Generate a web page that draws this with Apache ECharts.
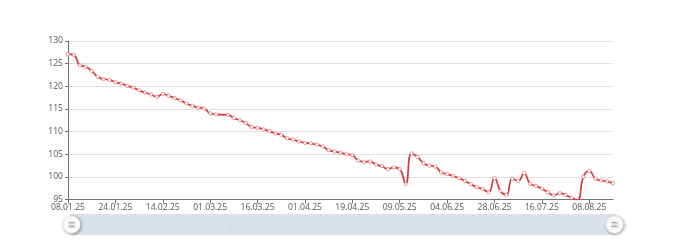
<!DOCTYPE html>
<html>
<head>
<meta charset="utf-8">
<script src="https://cdn.jsdelivr.net/npm/echarts@6/dist/echarts.min.js"></script>
<style>
html,body{margin:0;padding:0;background:#fff;}
#chart{width:680px;height:240px;}
</style>
</head>
<body>
<div id="chart"></div>
<script>
const dates = [
  '08.01.25','10.01.25','12.01.25','14.01.25','16.01.25','18.01.25','20.01.25','22.01.25',
  '24.01.25','27.01.25','29.01.25','31.01.25','03.02.25','05.02.25','07.02.25','11.02.25',
  '14.02.25','16.02.25','18.02.25','20.02.25','22.02.25','24.02.25','26.02.25','27.02.25',
  '01.03.25','03.03.25','05.03.25','07.03.25','09.03.25','10.03.25','12.03.25','14.03.25',
  '16.03.25','18.03.25','20.03.25','22.03.25','24.03.25','26.03.25','28.03.25','30.03.25',
  '01.04.25','03.04.25','05.04.25','08.04.25','10.04.25','12.04.25','14.04.25','17.04.25',
  '19.04.25','22.04.25','24.04.25','27.04.25','29.04.25','01.05.25','03.05.25','06.05.25',
  '09.05.25','12.05.25','15.05.25','18.05.25','21.05.25','24.05.25','28.05.25','01.06.25',
  '04.06.25','07.06.25','10.06.25','13.06.25','16.06.25','19.06.25','22.06.25','25.06.25',
  '28.06.25','30.06.25','02.07.25','05.07.25','07.07.25','09.07.25','11.07.25','14.07.25',
  '16.07.25','19.07.25','22.07.25','25.07.25','28.07.25','31.07.25','02.08.25','05.08.25',
  '08.08.25','11.08.25','13.08.25','15.08.25','18.08.25'
];

const values = [
  127.1, 126.9, 124.6, 124.3, 123.4, 122.1, 121.6, 121.4,
  120.9, 120.6, 120.1, 119.7, 119.1, 118.6, 118.2, 117.7,
  118.3, 117.9, 117.4, 116.9, 116.2, 115.7, 115.3, 115.1,
  114.0, 113.8, null, 113.7, 113.0, 112.5, 111.9, 111.0,
  110.8, 110.5, 110.1, 109.6, 109.3, 108.5, 108.2, 107.8,
  107.5, 107.4, 107.1, 106.7, 105.9, 105.6, 105.3, 105.0,
  104.8, 103.6, 103.3, 103.4, 102.7, 102.4, 101.7, 102.1,
  101.7, 98.4, 105.2, 104.4, 103.0, 102.5, 102.3, 101.0,
  100.6, 100.2, 99.7, 99.1, 98.4, 97.7, 97.3, 96.6,
  99.7, 96.9, 96.0, 99.6, 99.1, 100.8, 98.5, 98.0,
  97.4, 96.6, 95.9, 96.4, 96.0, 95.4, 94.9, 100.0,
  101.3, 99.6, 99.2, 99.0, 98.6
];

const yMin = 95;
const yMax = 130;
const yStep = 5;

const chart = echarts.init(document.getElementById('chart'), null, {renderer: 'canvas'});
const labelFont = { fontFamily: '"Open Sans", sans-serif', fontSize: 8.6, color: '#555555' };

// circle handle with "=" cut out
const handlePath = 'path://M0,-10A10,10,0,1,1,0,10A10,10,0,1,1,0,-10Z' +
  'M-3.5,-2.8L-3.5,-1.3L3.5,-1.3L3.5,-2.8Z' +
  'M-3.5,1.3L-3.5,2.8L3.5,2.8L3.5,1.3Z';

chart.setOption({
  animation: false,
  grid: { left: 68, right: 67, top: 41, bottom: 40.5, containLabel: false },
  xAxis: {
    type: 'category',
    data: dates,
    boundaryGap: false,
    axisLine: { show: true, lineStyle: { color: '#6e7079' } },
    axisTick: { show: true, length: 4, interval: 7, lineStyle: { color: '#6e7079' } },
    axisLabel: Object.assign({ interval: 7, margin: 4 }, labelFont),
    splitLine: { show: false }
  },
  yAxis: {
    type: 'value',
    min: yMin,
    max: yMax,
    interval: yStep,
    axisLine: { show: true, lineStyle: { color: '#6e7079' } },
    axisTick: { show: true, length: 3, lineStyle: { color: '#6e7079' } },
    axisLabel: Object.assign({ margin: 5 }, labelFont),
    splitLine: { show: true, lineStyle: { color: '#e0e0e0' } }
  },
  dataZoom: [{
    type: 'slider',
    xAxisIndex: 0,
    start: 0,
    end: 100,
    left: 68,
    right: 67,
    bottom: 5,
    height: 21,
    showDetail: false,
    brushSelect: false,
    moveHandleSize: 0,
    borderColor: 'transparent',
    backgroundColor: 'rgba(0,0,0,0)',
    fillerColor: 'rgba(212,220,232,0.85)',
    handleIcon: handlePath,
    handleSize: '85%',
    handleStyle: {
      color: '#ffffff',
      borderColor: '#d0d0d0',
      borderWidth: 0.5,
      shadowBlur: 3,
      shadowColor: 'rgba(0,0,0,0.35)',
      shadowOffsetX: 1,
      shadowOffsetY: 1
    },
    dataBackground: {
      lineStyle: { color: 'rgba(150,164,188,0.5)', width: 0.6 },
      areaStyle: { color: 'rgba(150,164,188,0.3)' }
    },
    selectedDataBackground: {
      lineStyle: { color: 'rgba(150,164,188,0.5)', width: 0.6 },
      areaStyle: { color: 'rgba(150,164,188,0.3)' }
    }
  }],
  series: [{
    type: 'line',
    data: values,
    smooth: true,
    connectNulls: true,
    symbol: 'circle',
    symbolSize: 3.5,
    showAllSymbol: true,
    lineStyle: { color: '#d43a3a', width: 1.7 },
    itemStyle: { color: '#fff6f6', borderColor: 'rgba(214,70,70,0.6)', borderWidth: 0.8 }
  }]
});
</script>
</body>
</html>
